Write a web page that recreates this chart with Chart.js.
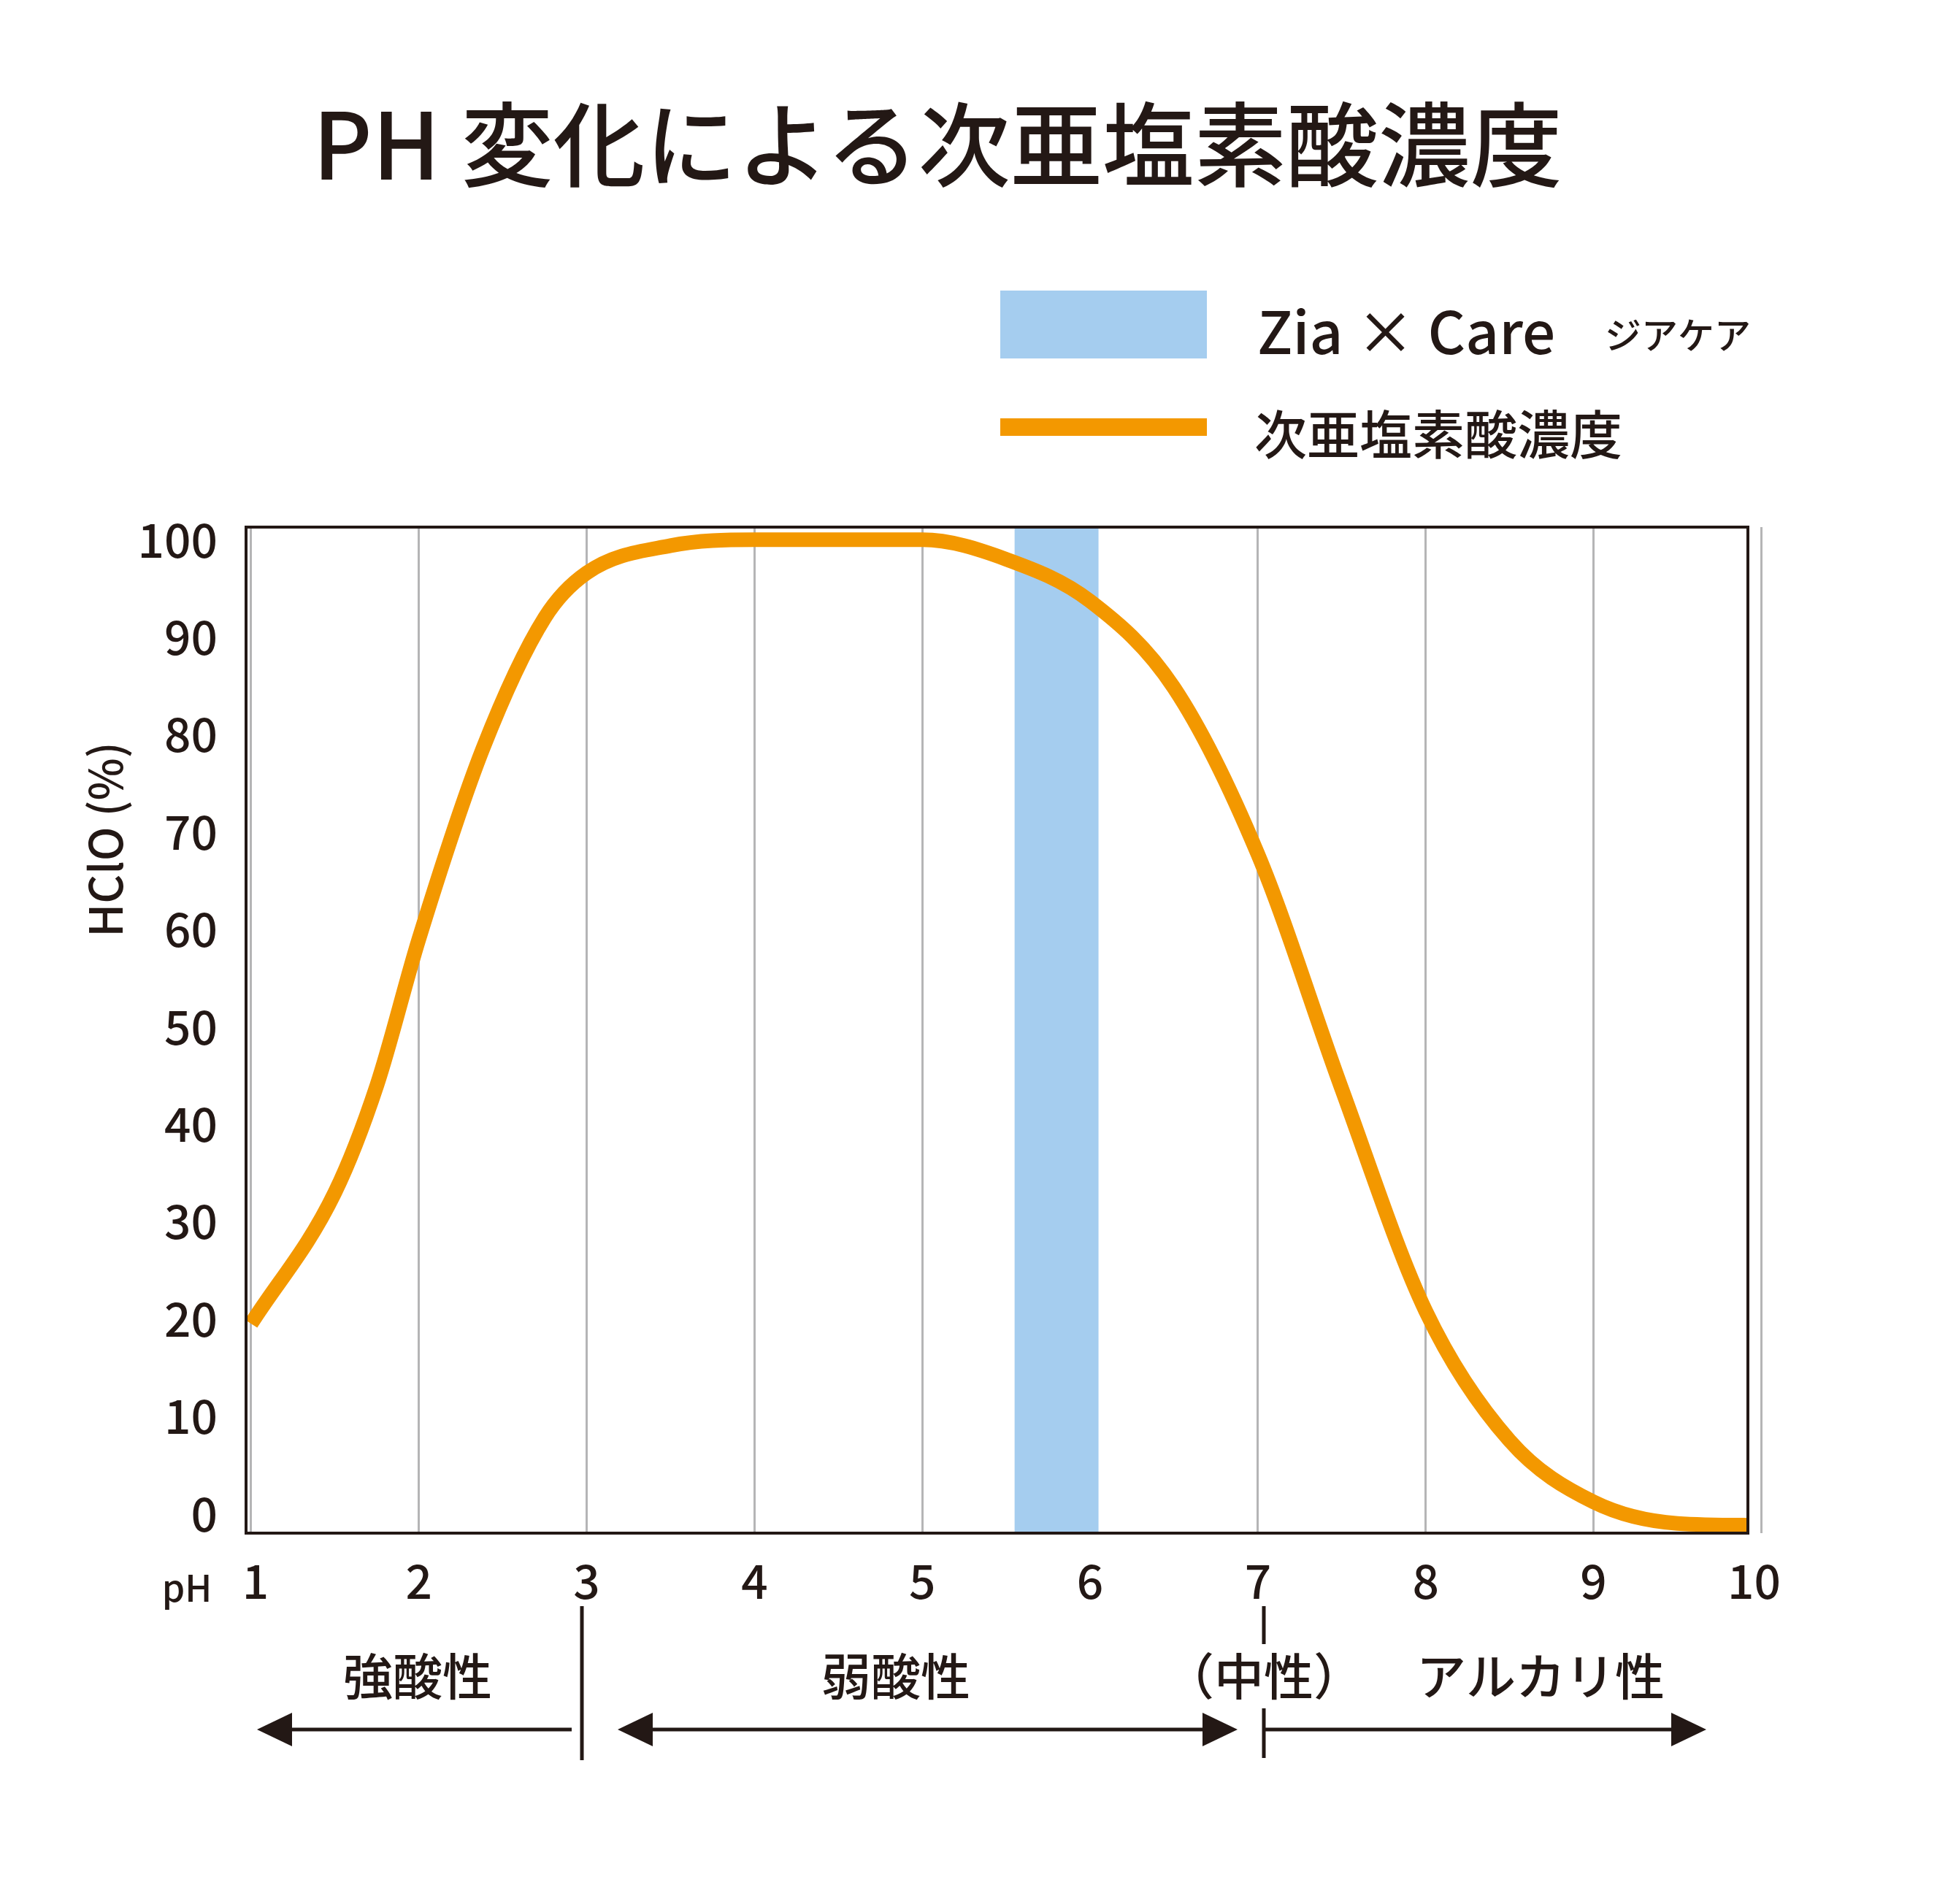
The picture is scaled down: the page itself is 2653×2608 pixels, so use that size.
<!DOCTYPE html>
<html><head><meta charset="utf-8">
<script src="https://cdn.jsdelivr.net/npm/chart.js@4/dist/chart.umd.min.js"></script>
<style>
html,body{margin:0;padding:0;background:#fff;}
#wrap{position:relative;width:2653px;height:2608px;font-family:"Noto Sans CJK JP","Noto Sans",sans-serif;color:#231815;}
.t{position:absolute;white-space:nowrap;}
</style></head><body>
<div id="wrap">
<canvas id="c" width="2653" height="2608" style="position:absolute;left:0;top:0"></canvas>
<div class="t" style="left:0;width:2568px;text-align:center;top:100px;font-size:126px;font-weight:500;">PH 変化による次亜塩素酸濃度</div>
<div class="t" style="left:1370px;top:398px;width:283px;height:93px;background:#A5CDEF"></div>
<div class="t" style="left:1722px;top:392px;font-size:80px;font-weight:500;">Zia × Care</div>
<div class="t" style="left:2198px;top:420px;font-size:50px;font-weight:500;">ジアケア</div>
<div class="t" style="left:1370px;top:573px;width:283px;height:24px;background:#F39800"></div>
<div class="t" style="left:1718px;top:538px;font-size:72px;font-weight:500;">次亜塩素酸濃度</div>
</div>
<script>
const phValues=[1,1.5,1.75,2,2.38,2.75,3,3.5,4,4.5,5,5.5,6,6.5,7,7.5,8,8.5,9,9.5,10];
const hclo=[19.5,33,44,59,78.5,92,96.6,99.4,100,100,100,98,93.7,84.8,67.7,43.6,20.8,7.5,1.2,-1,-1.2];
const xTicks=[1,2,3,4,5,6,7,8,9,10];
const yTicks=[0,10,20,30,40,50,60,70,80,90,100];
const band=[5.55,6.05];
const regions=[{t:"強酸性",x:572},{t:"弱酸性",x:1227},{t:"（中性）",x:1731},{t:"アルカリ性",x:2110}];
const INK="#231815";
const F='"Noto Sans CJK JP","Noto Sans",sans-serif';
const deco={id:'deco',
 beforeDatasetsDraw(ch){const {ctx,chartArea:a,scales:{x}}=ch;ctx.save();ctx.fillStyle="#A5CDEF";
  const l=x.getPixelForValue(band[0]),r=x.getPixelForValue(band[1]);ctx.fillRect(l,a.top,r-l,a.bottom-a.top);ctx.restore();},
 afterDraw(ch){const {ctx,chartArea:a,scales:{x,y}}=ch;ctx.save();
  ctx.strokeStyle=INK;ctx.lineWidth=4;ctx.strokeRect(a.left,a.top,a.right-a.left,a.bottom-a.top);
  ctx.fillStyle=INK;ctx.font='500 64px '+F;ctx.textBaseline='middle';ctx.textAlign='right';
  yTicks.forEach(v=>ctx.fillText(String(v),298,y.getPixelForValue(v)));
  ctx.textAlign='center';xTicks.forEach(v=>ctx.fillText(String(v),x.getPixelForValue(v)+(v===1?6:v===10?-10:0),2166));
  ctx.font='500 50px '+F;ctx.fillText('pH',256,2175);
  ctx.save();ctx.translate(144,1150);ctx.rotate(-Math.PI/2);ctx.font='500 62px '+F;ctx.fillText('HClO (%)',0,0);ctx.restore();
  ctx.font='500 68px '+F;regions.forEach(r=>ctx.fillText(r.t,r.x,2296));
  ctx.lineWidth=5;
  const ln=(x1,y1,x2,y2)=>{ctx.beginPath();ctx.moveTo(x1,y1);ctx.lineTo(x2,y2);ctx.stroke();};
  const head=(xt,dir)=>{ctx.beginPath();ctx.moveTo(xt,2369);ctx.lineTo(xt-dir*48,2346);ctx.lineTo(xt-dir*48,2392);ctx.closePath();ctx.fill();};
  ln(380,2369,783,2369);head(352,-1);
  ln(870,2369,1670,2369);head(846,-1);head(1695,1);
  ln(1731,2369,2310,2369);head(2337,1);
  ln(797,2200,797,2411);ln(1731,2200,1731,2252);ln(1731,2340,1731,2408);
  ctx.restore();}};
new Chart(document.getElementById('c'),{type:'line',
 data:{datasets:[{data:phValues.map((p,i)=>({x:p,y:hclo[i]})),borderColor:'#F39800',borderWidth:20,pointRadius:0,cubicInterpolationMode:'monotone',fill:false,borderCapStyle:'butt'}]},
 options:{responsive:false,animation:false,devicePixelRatio:1,
  layout:{padding:{left:337,right:259,top:722,bottom:508}},
  plugins:{legend:{display:false},tooltip:{enabled:false}},
  scales:{x:{type:'linear',min:0.97,max:9.92,afterBuildTicks:s=>{s.ticks=xTicks.map(v=>({value:v}));},ticks:{display:false},grid:{color:'#B5B5B6',lineWidth:3,drawTicks:false},border:{display:false}},
   y:{min:-2,max:101.3,ticks:{display:false},grid:{display:false,drawTicks:false},border:{display:false}}}},
 plugins:[deco]});
</script></body></html>
